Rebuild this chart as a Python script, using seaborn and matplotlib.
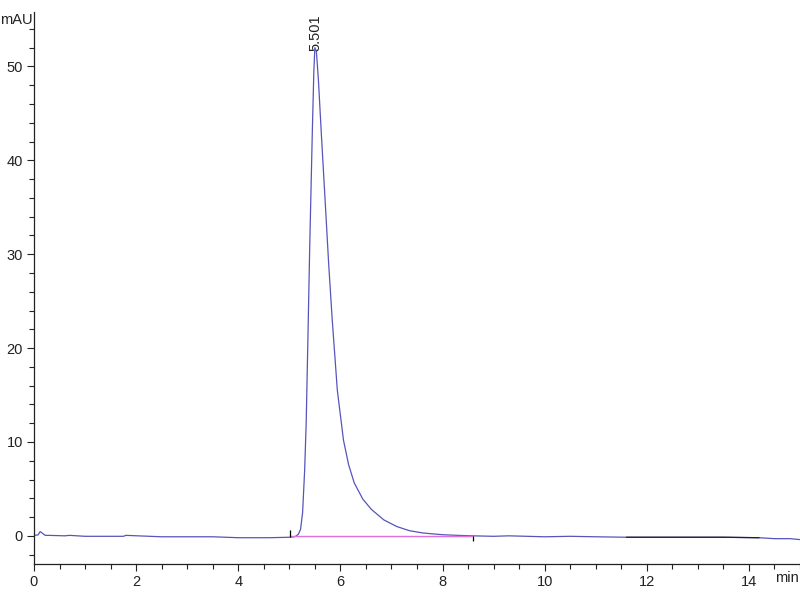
import matplotlib
matplotlib.use("Agg")
import matplotlib.pyplot as plt
import seaborn as sns
import pandas as pd
from matplotlib.ticker import MultipleLocator

# ---- data ----
time_min = [0.0, 0.08, 0.12, 0.16, 0.22, 0.3, 0.6, 0.7, 1.0, 1.75, 1.8, 2.5, 3.2, 3.5, 4.0,
            4.6, 5.0, 5.1, 5.14, 5.18, 5.22, 5.26, 5.30, 5.33, 5.36, 5.40, 5.45, 5.48,
            5.50, 5.53, 5.57, 5.63, 5.70, 5.77, 5.84, 5.94, 6.06, 6.16, 6.27, 6.44,
            6.61, 6.85, 7.10, 7.35, 7.62, 8.0, 8.3, 8.6, 9.0, 9.3, 10.0, 10.5, 11.0,
            11.6, 12.5, 13.5, 14.2, 14.5, 14.8, 15.0]
signal_mau = [0.05, 0.1, 0.45, 0.3, 0.05, 0.05, 0.0, 0.05, -0.05, -0.05, 0.05, -0.1, -0.1, -0.1, -0.2,
              -0.2, -0.15, -0.1, 0.0, 0.2, 0.7, 2.5, 7.0, 12.0, 20.0, 31.0, 43.0, 49.5,
              52.0, 51.6, 48.5, 42.5, 35.8, 29.0, 23.0, 15.5, 10.2, 7.6, 5.65, 3.9,
              2.8, 1.7, 1.0, 0.55, 0.3, 0.12, 0.05, 0.0, -0.05, 0.0, -0.1, -0.05, -0.1,
              -0.15, -0.15, -0.15, -0.2, -0.3, -0.3, -0.4]
dark_start, dark_end = 11.6, 14.2
baseline_t = [5.02, 8.6]
baseline_v = [-0.05, -0.05]
marker_t = [5.01, 8.6]
marker_lo = [-0.1, -0.6]
marker_hi = [0.6, 0.0]
peak_time = 5.515
peak_label = "5.501"
peak_label_y = 51.6

df = pd.DataFrame({"t": time_min, "v": signal_mau})

sns.set_style("ticks")
plt.rcParams["font.family"] = ["Liberation Sans", "DejaVu Sans"]

fig = plt.figure(figsize=(8, 6), dpi=100)
ax = fig.add_axes([0.0425, 0.06, 0.9575, 0.92])

sns.lineplot(data=df, x="t", y="v", ax=ax, color="#5555bb", linewidth=0.9,
             estimator=None, sort=False)
dark = df[(df.t >= dark_start) & (df.t <= dark_end)]
sns.lineplot(data=dark, x="t", y="v", ax=ax, color="#222222", linewidth=0.9,
             estimator=None, sort=False)
sns.lineplot(x=baseline_t, y=baseline_v, ax=ax, color="#e070e0", linewidth=1.0)
ax.vlines(marker_t, marker_lo, marker_hi, color="black", linewidth=0.9)

ax.text(peak_time, peak_label_y, peak_label, rotation=90, ha="center", va="bottom",
        fontsize=10.5, color="#222222")

ax.set_xlim(0, 15)
ax.set_ylim(-3, 55.8)
ax.xaxis.set_major_locator(MultipleLocator(2))
ax.xaxis.set_minor_locator(MultipleLocator(0.5))
ax.yaxis.set_major_locator(MultipleLocator(10))
ax.yaxis.set_minor_locator(MultipleLocator(2))
ax.tick_params(which="major", length=5, width=0.8, labelsize=10.5, colors="#222222", pad=3)
ax.tick_params(which="minor", length=3.5, width=0.8, colors="#222222")
ax.set_xticks([0, 2, 4, 6, 8, 10, 12, 14])
ax.set_xlabel("")
ax.set_ylabel("")
for s in ["top", "right"]:
    ax.spines[s].set_visible(False)
for s in ["left", "bottom"]:
    ax.spines[s].set_color("#222222")
    ax.spines[s].set_linewidth(0.9)

fig.text(0.0, 0.967, "mAU", ha="left", va="center", fontsize=10.5, color="#222222")
fig.text(0.999, 0.037, "min", ha="right", va="center", fontsize=10.5, color="#222222")

fig.savefig("out.png", dpi=100)
